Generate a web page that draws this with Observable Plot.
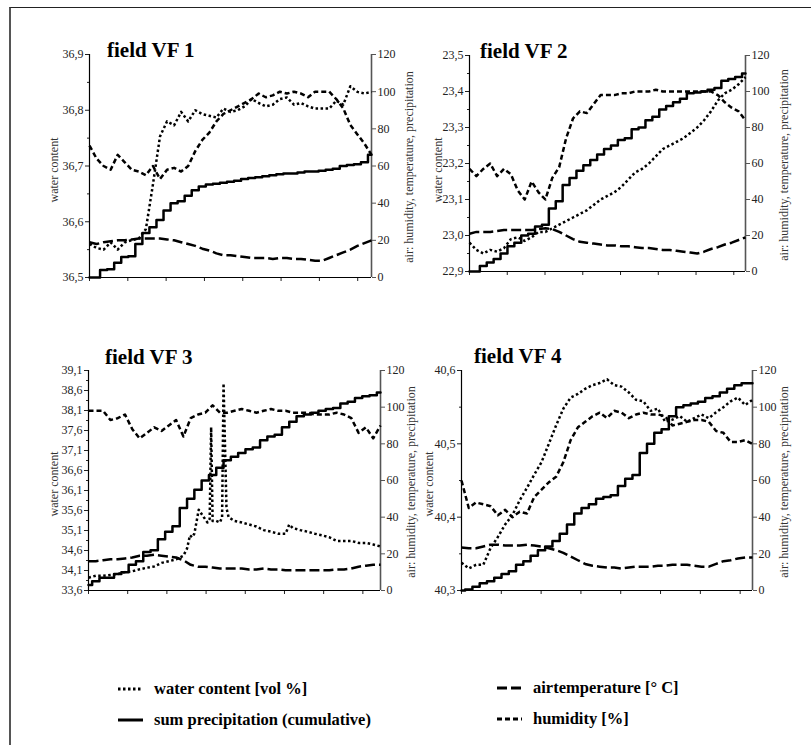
<!DOCTYPE html>
<html><head><meta charset="utf-8">
<script src="https://cdn.jsdelivr.net/npm/d3@7"></script>
<script src="https://cdn.jsdelivr.net/npm/@observablehq/plot@0.6"></script>
<style>
body{margin:0;background:#fff}
#root{position:relative;width:811px;height:745px;overflow:hidden;background:#fff;font-family:"Liberation Serif","Times New Roman",serif}
#root svg text{font-family:"Liberation Serif","Times New Roman",serif}
#frame{position:absolute;left:9px;top:7px;width:900px;height:900px;border-left:2px solid #555;border-top:1.5px solid #222}
</style></head><body><div id="root"><div id="frame"></div></div>
<script>
// ---------------- data ----------------
const rightTicks = [0, 20, 40, 60, 80, 100, 120];
const legendLabels = ["water content [vol %]", "sum precipitation (cumulative)", "airtemperature [° C]", "humidity  [%]"];
const panelTitles = ["field VF 1", "field VF 2", "field VF 3", "field VF 4"];
const leftAxisTitle = "water content";
const rightAxisTitle = "air: humidity, temperature, precipitation";

// VF 1
const vf1Days = 7.36;
const vf1WcTicks = [36.5, 36.6, 36.7, 36.8, 36.9];
const vf1Water = [36.560,36.553,36.550,36.563,36.550,36.563,36.567,36.570,36.587,36.667,36.753,36.780,36.773,36.797,36.780,36.800,36.793,36.790,36.787,36.803,36.797,36.800,36.807,36.820,36.813,36.807,36.810,36.820,36.823,36.810,36.813,36.807,36.803,36.803,36.803,36.817,36.810,36.843,36.833,36.830,36.833];
const vf1Precip = [0,0,4,4.5,8,11,11.5,18,24,27,31,36,40,41,44,47,49,50,50.5,51,51.5,52,53,53.5,54,54.5,55,55.5,56,56,56.5,57,57,57.5,58,58.5,60,60.5,61,62,66];
const vf1Temp = [19,18,19,19.5,20,20,20.5,21,21,21,21,20.5,20,19,18,17,15.5,14.5,13,12,12,11.5,11,10.5,10.5,10.5,10,10.5,10.5,10,10,9.5,9,9,10.5,12,13.5,15,17,18.5,20];
const vf1Humid = [71,64,60,58,66,62,58,57,55,60,53,58,59,57,60,68,74,78,84,88,90,92,94,96,99,97,98,100,99,100,99,97,100,100,100,96,91,82,77,72,66];

// VF 2
const vf2Days = 7.31;
const vf2WcTicks = [22.9, 23.0, 23.1, 23.2, 23.3, 23.4, 23.5];
const vf2Water = [22.980,22.960,22.950,22.960,22.955,22.965,22.990,22.995,22.985,22.995,23.010,23.010,23.020,23.030,23.040,23.050,23.060,23.070,23.085,23.100,23.110,23.120,23.135,23.155,23.175,23.185,23.200,23.220,23.240,23.250,23.260,23.270,23.285,23.300,23.320,23.345,23.375,23.395,23.405,23.420,23.440];
const vf2Precip = [0,0,3,5,7,10,14,16,20,21,25,26,35,39,48,52,56,59,62,65,68,70,73,74,79,80,84,86,90,92,94,96,99,99.5,100,101,102,106,107,108,110];
const vf2Temp = [21,22,22,22,22.5,23,23,23,23,23,23.5,24,23.5,22,20,18,16.5,16,15.5,15,14.5,14.5,14,14,13.5,13,13,12.5,12,12,11.5,11,10.5,10,11,12.5,13.5,15,16,17.5,19];
const vf2Humid = [57,53,57,60,53,57,54,45,40,50,44,40,52,58,74,85,89,88,93,98,98,98,99,99,100,100,100,101,100,100,100,100,100,100,100,100,98,94,91,89,84];

// VF 3
const vf3Days = 7.45;
const vf3WcTicks = [33.6, 34.1, 34.6, 35.1, 35.6, 36.1, 36.6, 37.1, 37.6, 38.1, 38.6, 39.1];
const vf3WaterIdx = [0,1,2,3,4,5,6,7,8,9,10,11,12,13,13.5,13.9,14.2,14.5,15.1,15.8,16.3,16.6,16.8,17,17.5,18,18.3,18.5,18.9,19.2,20,21,22,23,24,25,26,27,27.5,28,29,30,31,32,33,34,35,36,37,38,39,40];
const vf3Water = [33.92,33.97,33.97,33.99,34.01,34.06,34.08,34.13,34.17,34.20,34.29,34.33,34.38,34.47,34.65,34.98,34.93,35.02,35.62,35.43,35.30,35.39,37.68,35.34,35.34,35.30,35.43,38.78,35.66,35.43,35.34,35.30,35.25,35.20,35.11,35.07,35.02,35.02,35.25,35.16,35.11,35.07,35.02,34.98,34.93,34.84,34.84,34.84,34.79,34.79,34.75,34.70];
const vf3Precip = [3,5,7,7,9,10,14,16,21,22,28,32,35,45,50,55,60,63,67,71,73,75,77,78,82,84,85,89,92,95,96,97,98,99,99.5,102,103,105,106,106.5,108];
const vf3Temp = [16,16,16.5,17,17,17.5,18,19,19,19.5,19,18.5,18,16.5,14,13,13,12.5,12,12,12,12,11.5,11.5,12,11.5,11.5,11,11,11,11,11,11,11,11.5,11.5,12,13,13.5,14,14];
const vf3Humid = [98,98,98,93,94,96,88,83,86,89,87,90,93,84,94,96,97,101,97,97,98,99,98,97,98,99,98,98,97,97,97,96,96,96,97,96,94,86,89,83,90];

// VF 4
const vf4Days = 7.31;
const vf4WcTicks = [40.3, 40.4, 40.5, 40.6];
const vf4Water = [40.338,40.330,40.335,40.335,40.358,40.373,40.390,40.403,40.423,40.440,40.458,40.475,40.500,40.525,40.548,40.563,40.568,40.575,40.580,40.583,40.588,40.580,40.578,40.570,40.560,40.558,40.545,40.548,40.530,40.533,40.538,40.530,40.535,40.540,40.535,40.543,40.550,40.558,40.563,40.553,40.560];
const vf4Precip = [0,0.5,2,4,5,7,9,10.5,14,16,19,22,24,27,31,36,42,45,47,50,51,52,57,61,63,75,80,86,88,95,100,101,102,103,105,106,108,110,112,113,113];
const vf4Temp = [23.5,23,23,24,25,25,24.5,24.5,24.5,25,24.5,24,23,22,20.5,18.5,16.5,14.5,13.5,13,12.5,12.5,12,12.5,13,13,13,13.5,13.5,14,14,14,13.5,13,13,14.5,16,16.5,17.5,18,18];
const vf4Humid = [60,45,48,47,46,41,44,40,43,42,51,55,59,62,70,82,89,92,95,97,94,98,97,94,96,97,96,96,95,90,91,92,93,93,92,87,86,81,81,82,80];

// ---------------- layout ----------------
const FONT = '"Liberation Serif","Times New Roman",serif';
const layout = [
  {box:{x:0,y:0,w:430,h:300}, frame:{l:89,r:371,t:54,b:277}, title:{x:107,y:57}, leftLab:{x:54,y:170}, rightLab:{x:409,y:167}},
  {box:{x:420,y:0,w:391,h:300}, frame:{l:469,r:745,t:55,b:271}, title:{x:480,y:58}, leftLab:{x:438,y:170}, rightLab:{x:784,y:165}},
  {box:{x:0,y:310,w:430,h:300}, frame:{l:88,r:380,t:370,b:590}, title:{x:105,y:364}, leftLab:{x:54,y:484}, rightLab:{x:411,y:482}},
  {box:{x:420,y:310,w:391,h:300}, frame:{l:461,r:752,t:370,b:590}, title:{x:474,y:363}, leftLab:{x:429,y:484}, rightLab:{x:784,y:482}}
];
const panels = [
  {days:vf1Days, wcTicks:vf1WcTicks, water:vf1Water, precip:vf1Precip, temp:vf1Temp, humid:vf1Humid},
  {days:vf2Days, wcTicks:vf2WcTicks, water:vf2Water, precip:vf2Precip, temp:vf2Temp, humid:vf2Humid},
  {days:vf3Days, wcTicks:vf3WcTicks, water:vf3Water, waterIdx:vf3WaterIdx, precip:vf3Precip, temp:vf3Temp, humid:vf3Humid},
  {days:vf4Days, wcTicks:vf4WcTicks, water:vf4Water, precip:vf4Precip, temp:vf4Temp, humid:vf4Humid}
];
// dash patterns in mark order: temperature, humidity, water content, precipitation
const dashes = ["10,4", "5,3", "2.5,2.5", null];

const root = document.getElementById("root");
const commaFmt = v => d3.format(".1f")(v).replace(".", ",");

panels.forEach((p, k) => {
  const L = layout[k];
  const n = p.precip.length;
  const dayAt = i => i * p.days / (n - 1);
  const w0 = p.wcTicks[0], w1 = p.wcTicks[p.wcTicks.length - 1];
  const toR = v => (v - w0) / (w1 - w0) * 120;
  const fromR = r => w0 + r / 120 * (w1 - w0);
  const minor = d3.pairs(p.wcTicks).map(([a, b]) => (a + b) / 2);
  const series = (vals, idx, conv) => vals.map((v, j) => ({x: dayAt(idx ? idx[j] : j), y: conv ? conv(v) : v}));
  const lw = 2.5;
  const lineOpts = (d) => d ? {x: "x", y: "y", stroke: "#000", strokeWidth: lw, strokeDasharray: d, strokeLinecap: "butt"}
                            : {x: "x", y: "y", stroke: "#000", strokeWidth: lw, curve: "step"};
  const svg = Plot.plot({
    width: L.box.w, height: L.box.h,
    marginLeft: L.frame.l - L.box.x,
    marginRight: L.box.x + L.box.w - L.frame.r,
    marginTop: L.frame.t - L.box.y,
    marginBottom: L.box.y + L.box.h - L.frame.b,
    x: {domain: [0, p.days], label: null},
    y: {domain: [0, 120], label: null},
    style: {fontFamily: FONT, fontSize: "12px", color: "#222", background: "transparent", overflow: "visible"},
    marks: [
      Plot.axisX({ticks: d3.range(0, Math.floor(p.days) + 1), tickFormat: () => "", tickSize: 4, label: null}),
      Plot.axisY({anchor: "left", ticks: minor.map(toR), tickFormat: () => "", tickSize: 2, label: null}),
      Plot.axisY({anchor: "left", ticks: p.wcTicks.map(toR), tickFormat: r => commaFmt(fromR(r)), tickSize: 4, tickPadding: 2, label: null}),
      Plot.axisY({anchor: "right", ticks: rightTicks, tickFormat: d3.format("d"), tickSize: 4, tickPadding: 2, label: null, stroke: "#555"}),
      Plot.ruleX([0], {stroke: "#000", strokeWidth: 1.2}),
      Plot.ruleX([p.days], {stroke: "#555", strokeWidth: 1.6}),
      Plot.line(series(p.temp), lineOpts(dashes[0])),
      Plot.line(series(p.humid), lineOpts(dashes[1])),
      Plot.line(series(p.water, p.waterIdx, toR), lineOpts(dashes[2])),
      Plot.line(series(p.precip), lineOpts(dashes[3])),
      Plot.ruleY([0], {stroke: "#000", strokeWidth: 1.2})
    ]
  });
  // make sure dash patterns are applied to the rendered line paths
  const lineGroups = svg.querySelectorAll('g[aria-label="line"]');
  lineGroups.forEach((g, j) => {
    if (!dashes[j]) return;
    g.setAttribute("stroke-dasharray", dashes[j]);
    g.querySelectorAll("path").forEach(path => {
      path.setAttribute("stroke-dasharray", dashes[j]);
      path.style.strokeDasharray = dashes[j];
    });
  });
  svg.style.position = "absolute";
  svg.style.left = L.box.x + "px";
  svg.style.top = L.box.y + "px";
  root.appendChild(svg);
});

// overlay: titles, axis titles, legend
const ov = d3.select(root).append("svg")
  .attr("width", 811).attr("height", 745)
  .style("position", "absolute").style("left", 0).style("top", 0)
  .attr("font-family", FONT);

layout.forEach((L, k) => {
  ov.append("text").attr("x", L.title.x).attr("y", L.title.y)
    .attr("font-size", 21).attr("font-weight", "bold").attr("fill", "#000").text(panelTitles[k]);
  ov.append("text").attr("transform", `translate(${L.leftLab.x},${L.leftLab.y}) rotate(-90)`)
    .attr("text-anchor", "middle").attr("dominant-baseline", "central")
    .attr("font-size", 12).attr("fill", "#333").text(leftAxisTitle);
  ov.append("text").attr("transform", `translate(${L.rightLab.x},${L.rightLab.y}) rotate(-90)`)
    .attr("text-anchor", "middle").attr("dominant-baseline", "central")
    .attr("font-size", 12).attr("fill", "#333").text(rightAxisTitle);
});

const legendItems = [
  {label: legendLabels[0], dash: "2.5,2.5", x: 118, y: 689},
  {label: legendLabels[1], dash: null, x: 118, y: 720},
  {label: legendLabels[2], dash: "10,4", x: 497, y: 688},
  {label: legendLabels[3], dash: "5,3", x: 497, y: 719}
];
legendItems.forEach(it => {
  const ln = ov.append("line").attr("x1", it.x).attr("x2", it.x + 25).attr("y1", it.y).attr("y2", it.y)
    .attr("stroke", "#000").attr("stroke-width", 3);
  if (it.dash) ln.attr("stroke-dasharray", it.dash);
  ov.append("text").attr("x", it.x + 36).attr("y", it.y + 5)
    .attr("font-size", 16.5).attr("font-weight", "bold").attr("fill", "#000").text(it.label);
});
</script></body></html>
